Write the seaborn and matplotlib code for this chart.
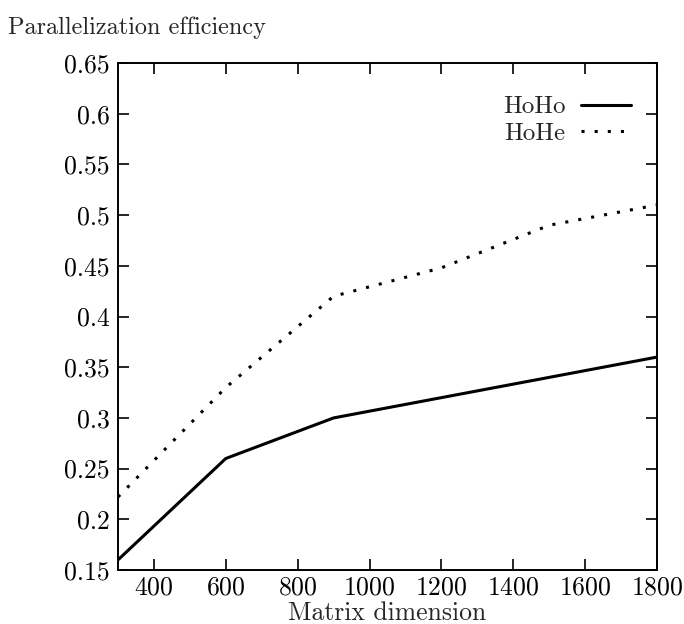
import pandas as pd
import matplotlib.pyplot as plt
import seaborn as sns
from matplotlib.ticker import FormatStrFormatter

# Values
matrix_dim = [300, 600, 900, 1200, 1500, 1800]
hoho = [0.160, 0.260, 0.300, 0.320, 0.340, 0.360]
hohe = [0.222, 0.330, 0.420, 0.448, 0.490, 0.510]
x_ticks = [400, 600, 800, 1000, 1200, 1400, 1600, 1800]
y_ticks = [0.15, 0.2, 0.25, 0.3, 0.35, 0.4, 0.45, 0.5, 0.55, 0.6, 0.65]

df = pd.DataFrame({
    'dim': matrix_dim * 2,
    'eff': hoho + hohe,
    'series': ['HoHo'] * len(hoho) + ['HoHe'] * len(hohe),
})

sns.set_style('ticks')
plt.rcParams['font.family'] = ['cmr10', 'DejaVu Serif']
plt.rcParams['axes.formatter.use_mathtext'] = True

fig = plt.figure(figsize=(6.84, 6.24), dpi=100)
ax = fig.add_axes([0.1725, 0.0865, 0.788, 0.8125])

sns.lineplot(data=df, x='dim', y='eff', style='series',
             dashes={'HoHo': '', 'HoHe': (1, 3.3)},
             color='black', linewidth=2.2, ax=ax)

ax.set_xlim(300, 1800)
ax.set_ylim(0.15, 0.65)
ax.set_xticks(x_ticks)
ax.set_yticks(y_ticks)
ax.yaxis.set_major_formatter(FormatStrFormatter('%g'))
ax.tick_params(direction='in', length=8, width=1.2, top=True, right=True,
               labelsize=18.5, pad=4, colors='black')
ax.tick_params(axis='y', pad=6)
for s in ax.spines.values():
    s.set_linewidth(1.4)
    s.set_color('black')

ax.set_xlabel('Matrix dimension', fontsize=18.5, labelpad=1.5)
ax.set_ylabel('')
fig.text(0.012, 0.955, 'Parallelization efficiency', fontsize=17.5, va='center')

leg = ax.legend(loc='upper right', frameon=False, markerfirst=False,
                fontsize=18, handlelength=2.0, handletextpad=0.6,
                bbox_to_anchor=(0.97, 0.955), borderaxespad=0,
                labelspacing=0.15)
for h in leg.get_lines():
    h.set_color('black')
    h.set_linewidth(2.2)

plt.savefig('out.png', dpi=100)
